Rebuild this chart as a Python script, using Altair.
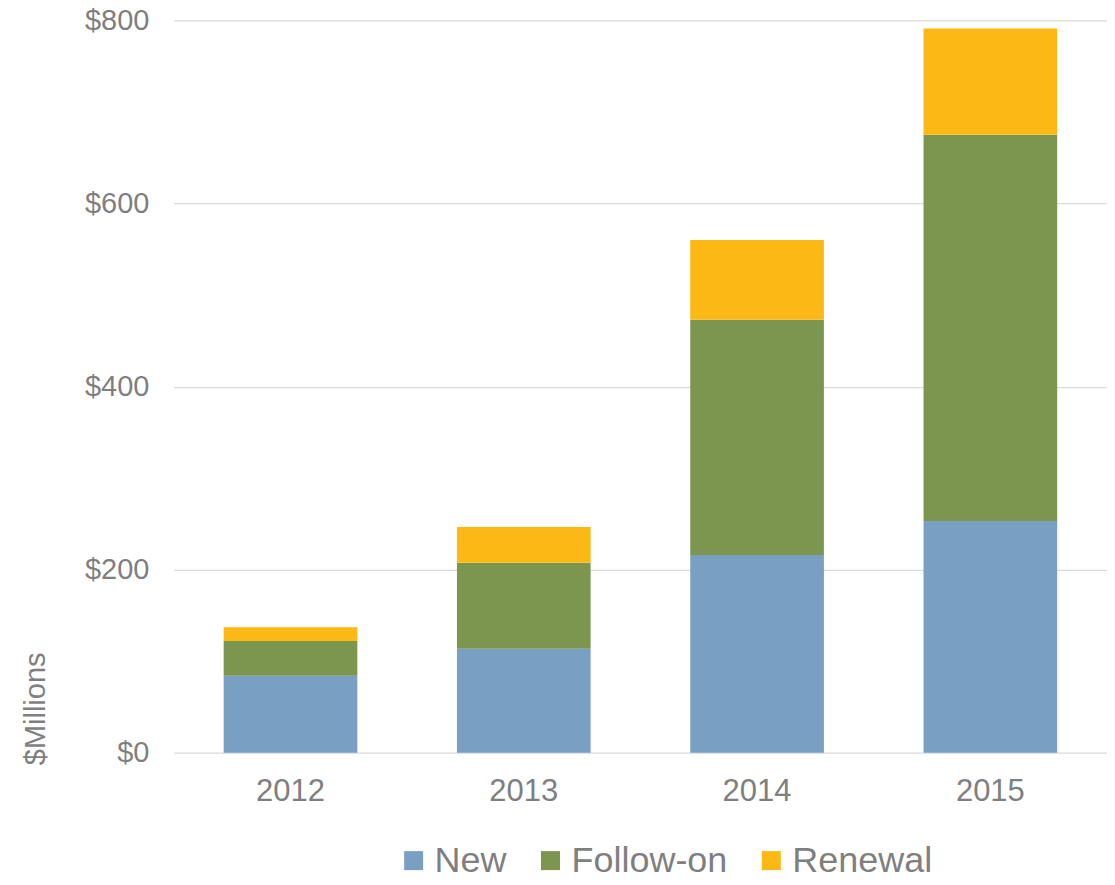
import altair as alt
import pandas as pd

years = ["2012", "2013", "2014", "2015"]
series = ["New", "Follow-on", "Renewal"]
new_vals = [84, 113.5, 216, 253]
follow_vals = [38, 94, 257, 422]
renewal_vals = [15, 39, 87, 116]
colors = ["#799FC3", "#7C9650", "#FCB815"]

rows = []
for i, y in enumerate(years):
    for j, (s, vals) in enumerate(zip(series, [new_vals, follow_vals, renewal_vals])):
        rows.append({"year": y, "series": s, "value": vals[i], "idx": j})
df = pd.DataFrame(rows)

FONT = "Liberation Sans"
GRAY = "#7F7F7F"

chart = alt.Chart(df).mark_bar().encode(
    x=alt.X("year:N", sort=years,
            scale=alt.Scale(paddingInner=0.427, paddingOuter=0.2135),
            axis=alt.Axis(title=None, labelAngle=0, ticks=False, tickSize=0, domain=False,
                          grid=False, labelPadding=24, labelFontSize=31,
                          labelColor=GRAY, labelFont=FONT)),
    y=alt.Y("value:Q", stack="zero",
            scale=alt.Scale(domain=[0, 800], nice=False),
            axis=alt.Axis(title="$Millions", values=[0, 200, 400, 600, 800], format="$d",
                          ticks=False, tickSize=0, domain=False, grid=True,
                          gridColor="#D9D9D9", gridWidth=1.3,
                          labelPadding=25, labelFontSize=29, labelColor=GRAY, labelFont=FONT,
                          titleFont=FONT, titleFontSize=29, titleColor=GRAY,
                          titleFontWeight="normal", titleAngle=270, titleX=-138, titleY=745,
                          titleAlign="left", titleBaseline="middle")),
    color=alt.Color("series:N", sort=series,
                    scale=alt.Scale(domain=series, range=colors),
                    legend=alt.Legend(title=None, orient="none", direction="horizontal",
                                      legendX=222, legendY=823,
                                      symbolType="square", symbolSize=361,
                                      symbolStrokeWidth=0, labelFontSize=36,
                                      labelColor=GRAY, labelFont=FONT, labelOffset=3,
                                      columnPadding=25)),
    order=alt.Order("idx:Q", sort="ascending"),
).properties(
    width=934, height=733,
    autosize=alt.AutoSizeParams(type="none"),
    padding={"left": 166, "top": 12, "right": 0, "bottom": 121},
).configure_view(stroke=None)

chart.save("out.html", embed_options={"renderer": "svg", "actions": False})
